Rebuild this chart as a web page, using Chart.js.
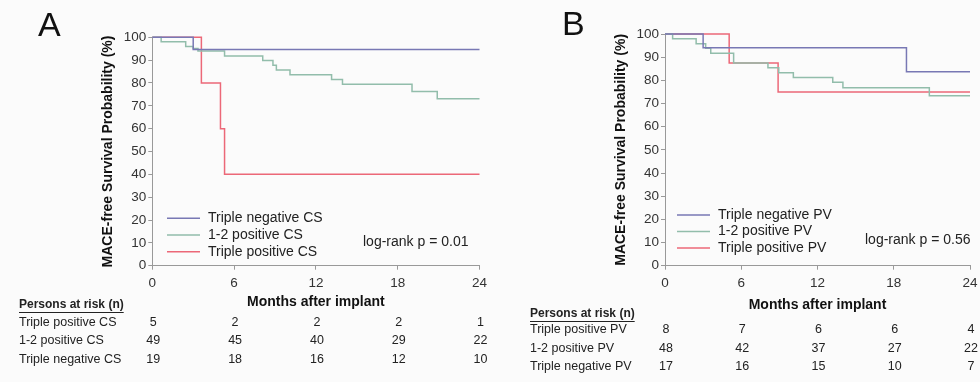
<!DOCTYPE html>
<html>
<head>
<meta charset="utf-8">
<script src="https://cdn.jsdelivr.net/npm/chart.js@4.4.1/dist/chart.umd.min.js"></script>
<style>
  html, body { margin: 0; padding: 0; background: #fbfbfb; }
  #wrap { position: relative; width: 980px; height: 382px; }
  .panel { position: absolute; top: 0; width: 490px; height: 382px; }
</style>
</head>
<body>
<div id="wrap">
  <div class="panel" style="left:0"><canvas id="chartA" width="490" height="382"></canvas></div>
  <div class="panel" style="left:490px"><canvas id="chartB" width="490" height="382"></canvas></div>
</div>
<script>
// months after implant (x) vs MACE-free survival in % (y), step points
const monthTicks = [0, 6, 12, 18, 24];

// panel A - CS
const csNegMonths = [0, 3.0, 24];
const csNegSurv   = [100, 94.7, 94.7];
const csMidMonths = [0, 0.65, 2.45, 3.0, 3.35, 5.3, 8.1, 8.85, 9.1, 10.1, 13.15, 13.95, 19.05, 20.9, 24];
const csMidSurv   = [100, 98, 96, 95.1, 94, 91.8, 89.8, 87.8, 85.7, 83.6, 81.5, 79.4, 76.3, 73.1, 73.1];
const csPosMonths = [0, 3.6, 5.0, 5.3, 24];
const csPosSurv   = [100, 80, 60, 40, 40];
const csLegend = ['Triple negative CS', '1-2 positive CS', 'Triple positive CS'];
const csRiskLabels = ['Triple positive CS', '1-2 positive CS', 'Triple negative CS'];
const csRiskPos = [5, 2, 2, 2, 1];
const csRiskMid = [49, 45, 40, 29, 22];
const csRiskNeg = [19, 18, 16, 12, 10];
const csPValue = 'log-rank p = 0.01';

// panel B - PV
const pvNegMonths = [0, 3.0, 19.0, 24];
const pvNegSurv   = [100, 94.1, 83.7, 83.7];
const pvMidMonths = [0, 0.6, 2.45, 3.2, 3.6, 5.4, 8.1, 8.95, 10.1, 13.2, 14.0, 20.8, 24];
const pvMidSurv   = [100, 97.9, 95.8, 93.8, 91.7, 87.5, 85.4, 83.3, 81.2, 79.2, 76.8, 73.3, 73.3];
const pvPosMonths = [0, 5.05, 8.9, 24];
const pvPosSurv   = [100, 87.5, 75, 75];
const pvLegend = ['Triple negative PV', '1-2 positive PV', 'Triple positive PV'];
const pvRiskLabels = ['Triple positive PV', '1-2 positive PV', 'Triple negative PV'];
const pvRiskPos = [8, 7, 6, 6, 4];
const pvRiskMid = [48, 42, 37, 27, 22];
const pvRiskNeg = [17, 16, 15, 10, 7];
const pvPValue = 'log-rank p = 0.56';

const colNeg = '#7878b4';
const colMid = '#92bdab';
const colPos = '#ec6878';
const FONT = '"Liberation Sans", Arial, sans-serif';

function toPoints(xs, ys) {
  return xs.map((x, i) => ({ x: x, y: ys[i] }));
}

function km(label, xs, ys, color) {
  return {
    label: label,
    data: toPoints(xs, ys),
    borderColor: color,
    borderWidth: 1.5,
    pointRadius: 0,
    stepped: true,
    fill: false,
    clip: 6
  };
}

// letter, legend, p value and the persons-at-risk table
function extrasPlugin(cfg) {
  return {
    id: 'kmExtras',
    afterDraw(chart) {
      const ctx = chart.ctx;
      const xs = chart.scales.x;
      ctx.save();
      ctx.fillStyle = '#111';
      ctx.textBaseline = 'alphabetic';
      ctx.textAlign = 'left';
      ctx.font = '34px ' + FONT;
      ctx.fillText(cfg.letter, cfg.letterX, cfg.letterY);

      // legend
      ctx.font = '14px ' + FONT;
      ctx.textBaseline = 'middle';
      cfg.legend.forEach((txt, i) => {
        const y = cfg.legY[i];
        ctx.strokeStyle = cfg.colors[i];
        ctx.lineWidth = 1.5;
        ctx.beginPath();
        ctx.moveTo(cfg.legX1, y);
        ctx.lineTo(cfg.legX2, y);
        ctx.stroke();
        ctx.fillStyle = '#222';
        ctx.fillText(txt, cfg.legTextX, y);
      });
      ctx.fillText(cfg.pText, cfg.pX, cfg.pY);

      // persons at risk
      ctx.font = 'bold 12px ' + FONT;
      ctx.fillStyle = '#222';
      ctx.fillText('Persons at risk (n)', cfg.riskX, cfg.headY);
      const w = ctx.measureText('Persons at risk (n)').width;
      ctx.strokeStyle = '#222';
      ctx.lineWidth = 1;
      ctx.beginPath();
      ctx.moveTo(cfg.riskX, cfg.headY + 7.5);
      ctx.lineTo(cfg.riskX + w, cfg.headY + 7.5);
      ctx.stroke();

      ctx.font = '12.5px ' + FONT;
      cfg.riskRows.forEach((row, r) => {
        const y = cfg.rowY[r];
        ctx.textAlign = 'left';
        ctx.fillText(cfg.riskLabels[r], cfg.riskX, y);
        ctx.textAlign = 'center';
        row.forEach((n, k) => {
          ctx.fillText(String(n), xs.getPixelForValue(monthTicks[k]) + 1, y);
        });
      });
      ctx.restore();
    }
  };
}

function makeChart(id, datasets, lay, cfg) {
  return new Chart(document.getElementById(id), {
    type: 'line',
    data: { datasets: datasets },
    options: {
      responsive: false,
      animation: false,
      devicePixelRatio: 1,
      layout: { padding: { left: lay.left, right: lay.right, top: lay.top, bottom: lay.bottom } },
      plugins: { legend: { display: false }, tooltip: { enabled: false } },
      scales: {
        x: {
          type: 'linear',
          min: 0,
          max: 24,
          afterBuildTicks(scale) {
            scale.ticks = monthTicks.map(v => ({ value: v }));
          },
          afterFit(scale) {
            scale.height = lay.xHeight;
            scale.paddingLeft = 0;
            scale.paddingRight = 0;
          },
          grid: { drawOnChartArea: false, drawTicks: true, tickLength: 4, color: '#999' },
          border: { color: '#999', width: 1 },
          ticks: { padding: 5, color: '#333', font: { family: FONT, size: 13.5 }, maxRotation: 0 },
          title: { display: true, text: 'Months after implant', color: '#111', padding: 0,
                   font: { family: FONT, size: 14, weight: 'bold' } }
        },
        y: {
          min: 0,
          max: 100,
          ticks: { stepSize: 10, padding: 2, color: '#333', font: { family: FONT, size: 13.5 } },
          afterFit(scale) {
            scale.width = lay.yWidth;
            scale.paddingTop = 0;
            scale.paddingBottom = 0;
          },
          grid: { drawOnChartArea: false, drawTicks: true, tickLength: 4, color: '#999' },
          border: { color: '#999', width: 1 },
          title: { display: true, text: 'MACE-free Survival Probability (%)', color: '#111', padding: 0,
                   font: { family: FONT, size: 14, weight: 'bold' } }
        }
      }
    },
    plugins: [extrasPlugin(cfg)]
  });
}

makeChart('chartA', [
  km(csLegend[0], csNegMonths, csNegSurv, colNeg),
  km(csLegend[1], csMidMonths, csMidSurv, colMid),
  km(csLegend[2], csPosMonths, csPosSurv, colPos)
], { left: 100, right: 10.5, top: 37.3, bottom: 71.3, yWidth: 52.3, xHeight: 45 }, {
  letter: 'A', letterX: 38, letterY: 36,
  legend: csLegend, colors: [colNeg, colMid, colPos],
  legX1: 167, legX2: 200, legTextX: 208, legY: [218.3, 235, 251.7],
  pText: csPValue, pX: 363, pY: 242,
  riskX: 19, headY: 305, rowY: [323, 341, 360],
  riskLabels: csRiskLabels, riskRows: [csRiskPos, csRiskMid, csRiskNeg]
});

makeChart('chartB', [
  km(pvLegend[0], pvNegMonths, pvNegSurv, colNeg),
  km(pvLegend[1], pvMidMonths, pvMidSurv, colMid),
  km(pvLegend[2], pvPosMonths, pvPosSurv, colPos)
], { left: 123, right: 10, top: 34, bottom: 68.3, yWidth: 52, xHeight: 48 }, {
  letter: 'B', letterX: 72, letterY: 35,
  legend: pvLegend, colors: [colNeg, colMid, colPos],
  legX1: 187, legX2: 220, legTextX: 228, legY: [215, 231.5, 248],
  pText: pvPValue, pX: 375, pY: 240,
  riskX: 40, headY: 314, rowY: [330, 349, 367],
  riskLabels: pvRiskLabels, riskRows: [pvRiskPos, pvRiskMid, pvRiskNeg]
});
</script>
</body>
</html>
